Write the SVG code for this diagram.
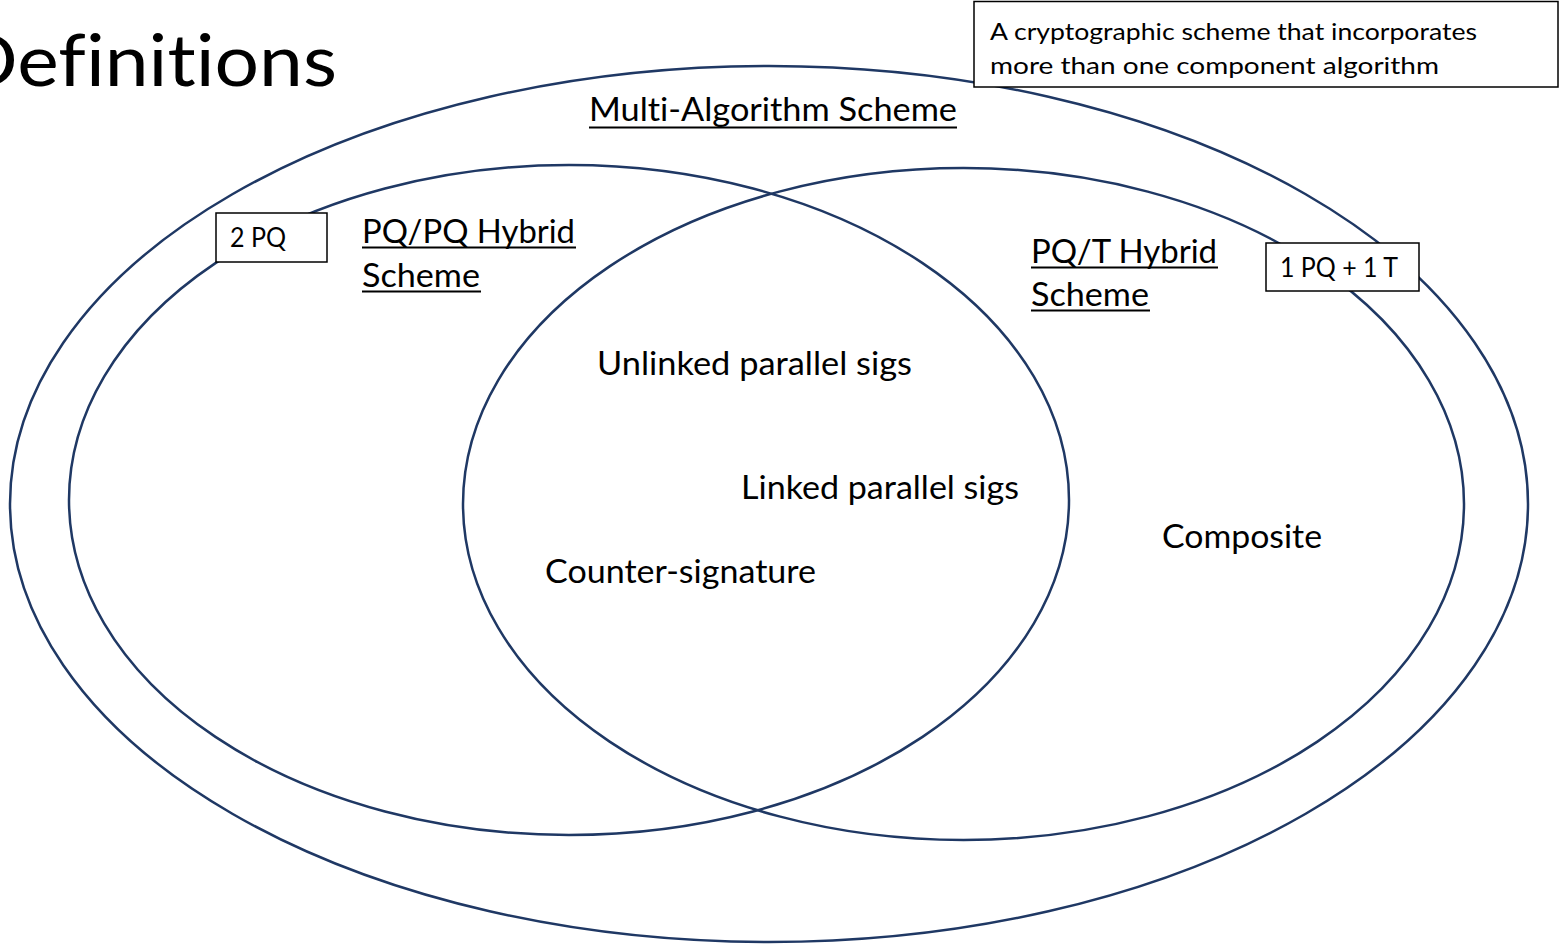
<svg xmlns="http://www.w3.org/2000/svg" width="1566" height="946" viewBox="0 0 1566 946">
  <style>
    .ring { fill: none; stroke: #1f3864; stroke-width: 2.5; }
    .lbl { font-family: Lato, "Open Sans", "Liberation Sans", sans-serif; fill: #000; font-variant-ligatures: none; font-feature-settings: "liga" 0, "clig" 0; }
    .big { font-size: 33px; }
    .small { font-size: 26px; }
    .note { font-size: 23px; }
    .tag { fill: #fff; stroke: #000; stroke-width: 1.5; }
    .ul { stroke: #000; stroke-width: 2; }
  </style>
  <rect width="1566" height="946" fill="#fff"/>

  <!-- slide title -->
  <text class="lbl" x="-42" y="86" font-size="72" textLength="379" lengthAdjust="spacingAndGlyphs">Definitions</text>

  <!-- Venn sets -->
  <g id="multi-algorithm">
    <ellipse class="ring" cx="769" cy="504" rx="759" ry="438"/>
    <text class="lbl big" x="589" y="121" textLength="368" lengthAdjust="spacingAndGlyphs">Multi-Algorithm Scheme</text>
    <line class="ul" x1="589" y1="127.5" x2="957" y2="127.5"/>
  </g>

  <g id="pq-pq-hybrid">
    <ellipse class="ring" cx="569" cy="500" rx="500" ry="335"/>
  </g>

  <g id="pq-t-hybrid">
    <ellipse class="ring" cx="963.5" cy="504" rx="500.5" ry="336"/>
  </g>

  <g id="pq-pq-label">
    <text class="lbl big" x="362" y="243" textLength="213" lengthAdjust="spacingAndGlyphs">PQ/PQ Hybrid</text>
    <line class="ul" x1="362" y1="247.5" x2="576" y2="247.5"/>
    <text class="lbl big" x="362" y="287" textLength="118" lengthAdjust="spacingAndGlyphs">Scheme</text>
    <line class="ul" x1="362" y1="291.5" x2="481" y2="291.5"/>
  </g>

  <g id="pq-t-label">
    <text class="lbl big" x="1031" y="263" textLength="186" lengthAdjust="spacingAndGlyphs">PQ/T Hybrid</text>
    <line class="ul" x1="1031" y1="267.5" x2="1218" y2="267.5"/>
    <text class="lbl big" x="1031" y="306" textLength="118" lengthAdjust="spacingAndGlyphs">Scheme</text>
    <line class="ul" x1="1031" y1="310.5" x2="1150" y2="310.5"/>
  </g>

  <!-- member schemes -->
  <g id="unlinked">
    <text class="lbl big" x="597" y="375" textLength="315" lengthAdjust="spacingAndGlyphs">Unlinked parallel sigs</text>
  </g>
  <g id="linked">
    <text class="lbl big" x="741" y="499" textLength="278" lengthAdjust="spacingAndGlyphs">Linked parallel sigs</text>
  </g>
  <g id="counter-signature">
    <text class="lbl big" x="545" y="583" textLength="271" lengthAdjust="spacingAndGlyphs">Counter-signature</text>
  </g>
  <g id="composite">
    <text class="lbl big" x="1162" y="548" textLength="160" lengthAdjust="spacingAndGlyphs">Composite</text>
  </g>

  <!-- callout boxes -->
  <g id="tag-2pq">
    <rect class="tag" x="216" y="213" width="111" height="49"/>
    <text class="lbl small" x="230" y="247" textLength="56" lengthAdjust="spacingAndGlyphs">2 PQ</text>
  </g>
  <g id="tag-1pq1t">
    <rect class="tag" x="1266" y="243" width="153" height="48"/>
    <text class="lbl small" x="1280" y="277" textLength="118" lengthAdjust="spacingAndGlyphs">1 PQ + 1 T</text>
  </g>
  <g id="definition-note">
    <rect class="tag" x="974" y="1.5" width="584" height="85.5"/>
    <text class="lbl note" x="990" y="39.5" textLength="487" lengthAdjust="spacingAndGlyphs">A cryptographic scheme that incorporates</text>
    <text class="lbl note" x="990" y="73.5" textLength="449" lengthAdjust="spacingAndGlyphs">more than one component algorithm</text>
  </g>
</svg>
